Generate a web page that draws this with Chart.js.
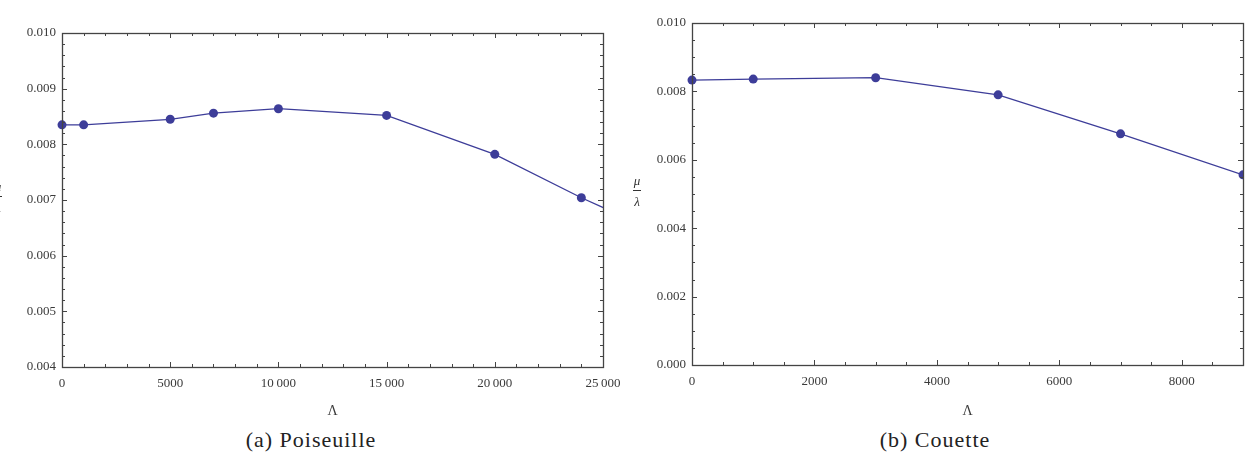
<!DOCTYPE html>
<html>
<head>
<meta charset="utf-8">
<script src="https://cdn.jsdelivr.net/npm/chart.js@4"></script>
<style>
  body { margin: 0; background: #fff; width: 1255px; height: 457px; position: relative; overflow: hidden; font-family: "Liberation Serif", serif; }
  .panel { position: absolute; top: 0; width: 625px; height: 425px; }
  .caption { position: absolute; top: 427px; width: 300px; font-size: 22px; letter-spacing: 1px; color: #222; text-align: center; line-height: 26px; }
  .frac { position: absolute; width: 14px; font-style: italic; font-size: 13px; color: #333; text-align: center; line-height: 13px; }
  .frac .bar { border-top: 1px solid #333; width: 8px; margin: 3px auto 4px; }
</style>
</head>
<body>
<div class="panel" style="left:0"><canvas id="pois"></canvas></div>
<div class="panel" style="left:630px"><canvas id="cou"></canvas></div>
<div class="frac" style="left:-9px;top:180px"><div>μ</div><div class="bar"></div><div>λ</div></div>
<div class="frac" style="left:630px;top:174px"><div>μ</div><div class="bar"></div><div>λ</div></div>
<div class="caption" style="left:161px">(a) Poiseuille</div>
<div class="caption" style="left:785px">(b) Couette</div>
<script>
// (a) Poiseuille
const poisLambda = [0, 1000, 5000, 7000, 10000, 15000, 20000, 24000, 30000];
const poisRatio = [0.00835, 0.00835, 0.00845, 0.00856, 0.00864, 0.00852, 0.00782, 0.00704, 0.0060];

// (b) Couette
const couLambda = [0, 1000, 3000, 5000, 7000, 9000];
const couRatio = [0.00833, 0.00836, 0.0084, 0.0079, 0.00676, 0.00556];

// axes: range, minor step, major step
const poisXAxis = { min: 0, max: 25000, step: 1000, major: 5000 };
const poisYAxis = { min: 0.004, max: 0.010, step: 0.0002, major: 0.001 };
const couXAxis = { min: 0, max: 9000, step: 500, major: 2000 };
const couYAxis = { min: 0, max: 0.010, step: 0.0005, major: 0.002 };

const lineColor = '#3d3d99';
const textColor = '#3a3a3a';
const frameColor = '#444';

function tickValues(ax) {
    const n = Math.round((ax.max - ax.min) / ax.step);
    const vals = [];
    for (let i = 0; i <= n; i++) vals.push(Number((ax.min + i * ax.step).toFixed(6)));
    return vals;
}

function isMajor(v, major) {
    const r = v / major;
    return Math.abs(r - Math.round(r)) < 1e-6;
}

function fmtX(v) {
    const s = String(Math.round(v));
    return v >= 10000 ? s.replace(/\B(?=(\d{3})+$)/g, '\u2009') : s;
}

// frame with inward ticks on all four sides
const frameTicks = {
    id: 'frameTicks',
    afterDraw(chart, args, opts) {
        const { ctx, chartArea: a, scales: { x, y } } = chart;
        ctx.save();
        ctx.strokeStyle = frameColor;
        ctx.lineWidth = 1;
        ctx.beginPath();
        x.ticks.forEach(t => {
            const px = Math.round(x.getPixelForValue(t.value)) + 0.5;
            const len = isMajor(t.value, opts.xMajor) ? 5 : 3;
            ctx.moveTo(px, a.bottom); ctx.lineTo(px, a.bottom - len);
            ctx.moveTo(px, a.top); ctx.lineTo(px, a.top + len);
        });
        y.ticks.forEach(t => {
            const py = Math.round(y.getPixelForValue(t.value)) + 0.5;
            const len = isMajor(t.value, opts.yMajor) ? 5 : 3;
            ctx.moveTo(a.left, py); ctx.lineTo(a.left + len, py);
            ctx.moveTo(a.right, py); ctx.lineTo(a.right - len, py);
        });
        ctx.stroke();
        ctx.lineWidth = 1.3;
        ctx.strokeRect(Math.round(a.left) + 0.5, Math.round(a.top) + 0.5,
            Math.round(a.right - a.left), Math.round(a.bottom - a.top));
        ctx.restore();
    }
};

function makeChart(id, xs, ys, xAxis, yAxis, padTop, padRight, xHeight) {
    const font = { family: '"Liberation Serif", serif', size: 13 };
    return new Chart(document.getElementById(id), {
        type: 'line',
        data: {
            datasets: [{
                data: xs.map((x, i) => ({ x: x, y: ys[i] })),
                borderColor: lineColor,
                backgroundColor: lineColor,
                borderWidth: 1.3,
                pointRadius: 4.5,
                pointHoverRadius: 4.5,
                pointBorderWidth: 0,
                tension: 0,
                clip: { left: 8, top: 8, bottom: 8, right: 0 }
            }]
        },
        options: {
            responsive: false,
            animation: false,
            layout: { padding: { top: padTop, right: padRight, left: 0, bottom: 0 } },
            plugins: {
                legend: { display: false },
                tooltip: { enabled: false },
                frameTicks: { xMajor: xAxis.major, yMajor: yAxis.major }
            },
            scales: {
                x: {
                    type: 'linear',
                    min: xAxis.min,
                    max: xAxis.max,
                    afterBuildTicks: s => { s.ticks = tickValues(xAxis).map(v => ({ value: v })); },
                    afterFit: s => { s.height = xHeight; s.paddingLeft = 0; s.paddingRight = 0; },
                    grid: { display: false, drawTicks: false },
                    border: { display: false },
                    ticks: {
                        autoSkip: false, maxRotation: 0, padding: 9, color: textColor, font: font,
                        callback: v => isMajor(v, xAxis.major) ? fmtX(v) : ''
                    },
                    title: {
                        display: true, text: 'Λ', color: textColor,
                        font: { family: '"Liberation Serif", serif', size: 14 },
                        padding: { top: 0, bottom: 5 }
                    }
                },
                y: {
                    type: 'linear',
                    min: yAxis.min,
                    max: yAxis.max,
                    afterBuildTicks: s => { s.ticks = tickValues(yAxis).map(v => ({ value: v })); },
                    afterFit: s => { s.width = 62; s.paddingTop = 0; s.paddingBottom = 0; },
                    grid: { display: false, drawTicks: false },
                    border: { display: false },
                    ticks: {
                        autoSkip: false, padding: 6, color: textColor, font: font,
                        callback: v => isMajor(v, yAxis.major) ? v.toFixed(3) : ''
                    }
                }
            }
        },
        plugins: [frameTicks]
    });
}

document.getElementById('pois').width = 625;
document.getElementById('pois').height = 425;
document.getElementById('cou').width = 625;
document.getElementById('cou').height = 425;

makeChart('pois', poisLambda, poisRatio, poisXAxis, poisYAxis, 33, 22, 58);
makeChart('cou', couLambda, couRatio, couXAxis, couYAxis, 23, 12, 60);
</script>
</body>
</html>
